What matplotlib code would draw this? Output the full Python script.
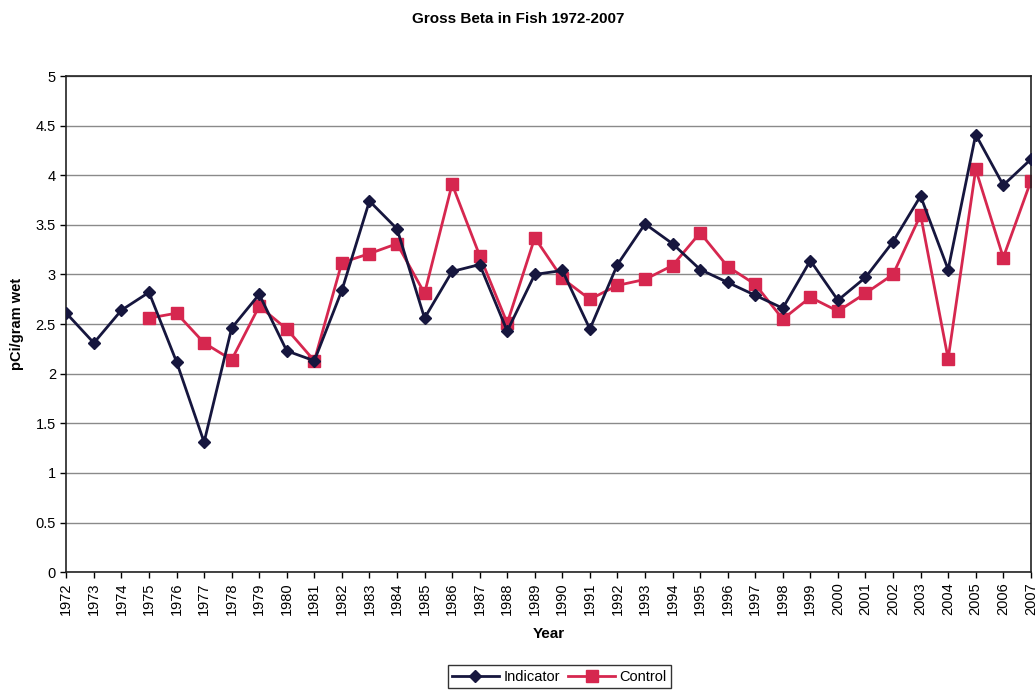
import numpy as np
import matplotlib
matplotlib.use("Agg")
import matplotlib.pyplot as plt

plt.rcParams['font.family'] = ['Liberation Sans', 'DejaVu Sans']

years = list(range(1972, 2008))

# Indicator series (1972-2007)
indicator = [2.61, 2.31, 2.64, 2.82, 2.12, 1.31, 2.46, 2.80, 2.23, 2.13,
             2.84, 3.74, 3.46, 2.56, 3.03, 3.10, 2.43, 3.00, 3.04, 2.45,
             3.10, 3.51, 3.31, 3.05, 2.92, 2.79, 2.66, 3.14, 2.74, 2.97,
             3.33, 3.79, 3.05, 4.41, 3.90, 4.16]

# Control series starts in 1975
control_years = list(range(1975, 2008))
control = [2.56, 2.61, 2.31, 2.14, 2.68, 2.45, 2.13, 3.12, 3.21, 3.31,
           2.81, 3.91, 3.19, 2.51, 3.37, 2.96, 2.75, 2.89, 2.95, 3.09,
           3.42, 3.08, 2.90, 2.55, 2.77, 2.63, 2.81, 3.00, 3.60, 2.15,
           4.06, 3.17, 3.94]

navy = '#16163e'
crimson = '#d6274f'

fig = plt.figure(figsize=(10.36, 6.91), dpi=100)
ax = fig.add_axes([0.064, 0.172, 0.931, 0.718])

ax.plot(years, indicator, color=navy, lw=2, marker='D', markersize=6.5,
        label='Indicator', zorder=3)
ax.plot(control_years, control, color=crimson, lw=2, marker='s', markersize=9,
        label='Control', zorder=2)

ax.set_xlim(1972, 2007)
ax.set_ylim(0, 5)
ax.set_yticks(np.arange(0, 5.01, 0.5))
ax.set_yticklabels(['0', '0.5', '1', '1.5', '2', '2.5', '3', '3.5', '4', '4.5', '5'],
                   fontsize=10.5)
ax.set_xticks(years)
ax.set_xticklabels([str(y) for y in years], rotation=90, fontsize=10.5)
ax.tick_params(axis='both', direction='out', length=4, width=1, colors='black')
ax.yaxis.grid(True, color='#8a8a8a', lw=1)
ax.set_axisbelow(True)
for s in ax.spines.values():
    s.set_color('#222222')
    s.set_linewidth(1.2)

ax.set_xlabel('Year', fontsize=11, fontweight='bold', labelpad=8)
ax.set_ylabel('pCi/gram wet', fontsize=10.5, fontweight='bold', labelpad=8)
fig.text(0.5, 0.972, 'Gross Beta in Fish 1972-2007', ha='center', va='center',
         fontsize=11, fontweight='bold')

leg = fig.legend(loc='lower center', bbox_to_anchor=(0.54, 0.0), ncol=2,
                 fontsize=10.5, frameon=True, fancybox=False, edgecolor='black',
                 handlelength=3.2, handletextpad=0.3, columnspacing=0.6,
                 borderpad=0.3, borderaxespad=0.2)
leg.get_frame().set_linewidth(1.0)

fig.savefig('out.png', dpi=100)
